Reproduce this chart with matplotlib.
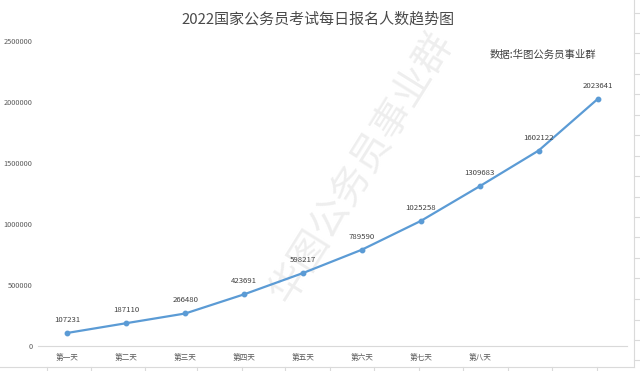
import matplotlib
matplotlib.use("Agg")
import matplotlib.pyplot as plt
from matplotlib.lines import Line2D

plt.rcParams['font.family'] = ['Noto Sans CJK SC', 'DejaVu Sans']

title = "2022国家公务员考试每日报名人数趋势图"
source_note = "数据:华图公务员事业群"
watermark = "华图公务员事业群"
day_labels = ["第一天", "第二天", "第三天", "第四天", "第五天", "第六天", "第七天", "第八天", "", ""]
counts = [107231, 187110, 266480, 423691, 598217, 789590, 1025258, 1309683, 1602122, 2023641]
y_ticks = [0, 500000, 1000000, 1500000, 2000000, 2500000]

W, H = 640, 371
fig = plt.figure(figsize=(W / 100, H / 100), dpi=100)
fig.patch.set_facecolor('white')

def fx(px):
    return px / W

def fy(py):
    return 1 - py / H

ax = fig.add_axes([fx(38), fy(346), fx(627) - fx(38), fy(41) - fy(346)])
ax.set_facecolor('none')

x = list(range(len(counts)))
ax.plot(x, counts, color='#5B9BD5', linewidth=1.6, marker='o', markersize=3.2,
        markerfacecolor='#5B9BD5', markeredgecolor='#5B9BD5', zorder=3)

for xi, v in zip(x, counts):
    ax.annotate(str(v), (xi, v), xytext=(0, 6.5), textcoords='offset points',
                ha='center', va='bottom', fontsize=5.6, color='#404040', zorder=4)

ax.set_xlim(-0.5, len(counts) - 0.5)
ax.set_ylim(0, 2500000)
ax.set_xticks(x)
ax.set_xticklabels(day_labels, fontsize=5.5, color='#595959')
ax.set_yticks(y_ticks)
ax.set_yticklabels([str(t) for t in y_ticks], fontsize=5.3, color='#595959')
ax.tick_params(axis='both', length=0)
ax.tick_params(axis='x', pad=5.5)
ax.tick_params(axis='y', pad=4)
for s in ['top', 'right', 'left']:
    ax.spines[s].set_visible(False)
ax.spines['bottom'].set_color('#D9D9D9')
ax.spines['bottom'].set_linewidth(0.8)

# title and source note
fig.text(fx(318), fy(19), title, ha='center', va='center', fontsize=10.8, color='#4A4A4A')
fig.text(fx(490), fy(55), source_note, ha='left', va='center', fontsize=7.5, color='#404040')

# watermark (behind the line)
ax.text(fx(361), fy(168), watermark, transform=fig.transFigure, rotation=58,
        ha='center', va='center', fontsize=28, color='#EEEEEE', fontweight='light',
        zorder=1, clip_on=False)

# chart border and spreadsheet cell lines
grid_c = '#DADADA'
fig.add_artist(Line2D([fx(0), fx(634)], [fy(367), fy(367)], transform=fig.transFigure, color=grid_c, lw=0.8))
fig.add_artist(Line2D([fx(634), fx(634)], [fy(0), fy(367)], transform=fig.transFigure, color=grid_c, lw=0.8))
for px in [47, 91, 145, 197, 242, 285, 330, 374, 419, 463, 508, 552, 597]:
    fig.add_artist(Line2D([fx(px), fx(px)], [fy(367), fy(371)], transform=fig.transFigure, color=grid_c, lw=0.8))
for py in [13, 33, 53, 74, 94, 115, 135, 156, 176, 197, 217, 237, 258, 278, 299, 320, 340, 360]:
    fig.add_artist(Line2D([fx(634), fx(640)], [fy(py), fy(py)], transform=fig.transFigure, color=grid_c, lw=0.8))

fig.savefig('out.png', dpi=100, facecolor='white')
